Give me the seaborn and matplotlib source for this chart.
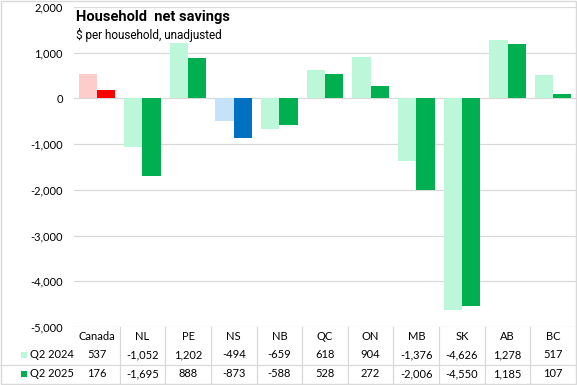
import pandas as pd
import seaborn as sns
import matplotlib.pyplot as plt
from matplotlib.patches import Rectangle

# data
regions = ['Canada', 'NL', 'PE', 'NS', 'NB', 'QC', 'ON', 'MB', 'SK', 'AB', 'BC']
q2_2024 = [537, -1052, 1202, -494, -659, 618, 904, -1376, -4626, 1278, 517]
q2_2025 = [176, -1695, 888, -873, -588, 528, 272, -2006, -4550, 1185, 107]
series = ['Q2 2024', 'Q2 2025']

light_green, green = '#BDF7DA', '#00B050'
light_red, red = '#FFCCCC', '#FF0000'
light_blue, blue = '#C5E2F8', '#0070C0'
grid_col = '#D9D9D9'

df = pd.DataFrame({
    'region': regions * 2,
    'value': q2_2024 + q2_2025,
    'quarter': [series[0]] * len(regions) + [series[1]] * len(regions),
})

W, H = 577, 385
fig = plt.figure(figsize=(W / 100, H / 100), dpi=100)

# plot area in pixel coords
x0, x1 = 74, 576
y_top, y_bot = 7, 327
ax = fig.add_axes([x0 / W, 1 - y_bot / H, (x1 - x0) / W, (y_bot - y_top) / H])

sns.barplot(data=df, x='region', y='value', hue='quarter', order=regions,
            hue_order=series, palette=[light_green, green], saturation=1,
            width=0.8, legend=False, ax=ax)

# Canada in red, NS in blue
for idx, (c_light, c_dark) in {0: (light_red, red), 3: (light_blue, blue)}.items():
    ax.containers[0][idx].set_facecolor(c_light)
    ax.containers[1][idx].set_facecolor(c_dark)
for bar in ax.patches:
    bar.set_edgecolor('none')

ax.set_xlim(-0.5, len(regions) - 0.5)
ax.set_ylim(-5000, 2000)
ax.set_yticks(range(-5000, 2001, 1000))
ax.set_yticklabels([f'{v:,}' for v in range(-5000, 2001, 1000)],
                   fontsize=8, family='Lato')
ax.yaxis.grid(True, color=grid_col, lw=0.9)
ax.set_axisbelow(True)
ax.tick_params(axis='y', length=0, pad=8)
ax.tick_params(axis='x', length=0, labelbottom=False)
ax.set_xlabel('')
ax.set_ylabel('')
for s in ax.spines.values():
    s.set_visible(False)

# overlay for title, data table and border (pixel coords)
ov = fig.add_axes([0, 0, 1, 1], facecolor='none')
ov.set_xlim(0, W)
ov.set_ylim(H, 0)
ov.axis('off')

ov.text(76, 17, 'Household  net savings', fontsize=10.5, fontweight='bold',
        family='Roboto', va='center', ha='left')
ov.text(76, 35, '$ per household, unadjusted', fontsize=8.5,
        family='Roboto', va='center', ha='left')

colw = (x1 - x0) / len(regions)
row_y = [337, 354.5, 373.5]
for i, r in enumerate(regions):
    cx = x0 + (i + 0.5) * colw
    ov.text(cx, row_y[0], r, fontsize=8, family='Lato', ha='center', va='center')
    ov.text(cx, row_y[1], f'{q2_2024[i]:,}', fontsize=8, family='Lato',
            ha='center', va='center')
    ov.text(cx, row_y[2], f'{q2_2025[i]:,}', fontsize=8, family='Lato',
            ha='center', va='center')

for name, col, y in zip(series, [light_green, green], row_y[1:]):
    ov.add_patch(Rectangle((21, y - 3), 6, 6, color=col, lw=0))
    ov.text(30, y, name, fontsize=8, family='Lato', ha='left', va='center')

ov.plot([0, x1], [365, 365], color=grid_col, lw=0.9)
for k in range(1, len(regions)):
    xv = x0 + k * colw
    ov.plot([xv, xv], [327, 384], color=grid_col, lw=0.9)

ov.add_patch(Rectangle((0.5, 0.5), W - 1.5, H - 1.5, fill=False,
                       edgecolor=grid_col, lw=1))

fig.savefig('out.png', dpi=100)
